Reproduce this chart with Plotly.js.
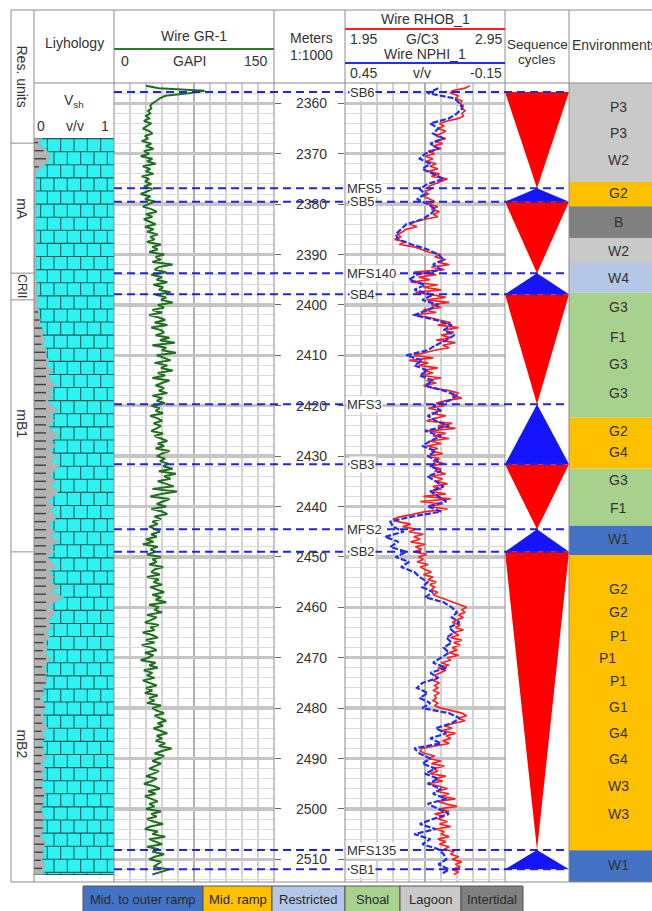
<!DOCTYPE html>
<html><head><meta charset="utf-8">
<script src="https://cdn.plot.ly/plotly-3.0.1.min.js"></script>
<style>html,body{margin:0;padding:0;background:#fff}#chart{width:652px;height:911px}</style>
</head><body><div id="chart"></div>
<script>
// ================= DATA =================
// Gamma ray (GAPI), 0.5 m sampling
const grStart = 2356.5, grStep = 0.5;
const grValues = [
30,42,85,70,48,43,40,36,34,35,32,34,30,33,28,35,31,27,33,36,
29,32,26,35,30,37,28,33,25,36,31,39,27,34,30,37,26,33,29,35,
28,36,31,25,34,29,38,32,27,35,40,30,36,28,33,39,29,37,31,41,
34,38,31,44,36,41,33,47,39,44,36,55,42,38,49,35,45,40,50,37,
46,42,53,39,49,44,55,41,47,36,45,33,42,48,38,50,35,44,47,39,
52,43,57,36,49,45,58,40,47,53,38,50,44,55,41,48,36,52,45,39,
47,42,50,36,45,40,48,35,43,39,46,34,41,45,37,44,40,35,46,38,
44,50,41,47,39,52,45,40,48,43,51,46,55,42,58,47,53,41,49,56,
36,59,44,34,52,46,40,49,35,45,50,38,44,36,41,33,39,43,35,40,
30,37,27,41,34,39,31,44,36,40,33,46,38,35,43,31,42,37,45,34,
41,47,36,44,39,49,33,42,38,45,31,40,35,29,42,34,38,27,36,41,
30,38,26,35,40,29,37,32,25,39,33,41,28,36,31,38,27,34,40,30,
36,29,41,33,38,31,44,36,40,47,38,43,49,41,46,37,44,50,40,45,
39,48,42,54,45,38,47,41,36,44,39,33,42,37,30,40,35,28,38,43,
32,39,29,36,41,33,38,30,44,35,40,31,37,46,34,29,41,36,48,33,
39,45,31,42,36,47,38,33,44,40,37,52,43,36
];
// Bulk density (G/C3), 0.5 m sampling
const rhobStart = 2356.5, rhobStep = 0.5;
const rhobValues = [
2.73,2.70,2.62,2.61,2.66,2.64,2.68,2.67,2.69,2.68,2.70,2.68,2.69,2.66,2.59,2.54,2.57,2.53,2.58,2.55,
2.52,2.58,2.51,2.56,2.50,2.55,2.47,2.51,2.45,2.50,2.46,2.52,2.48,2.53,2.47,2.54,2.49,2.59,2.55,2.50,
2.47,2.49,2.45,2.47,2.44,2.48,2.51,2.47,2.53,2.49,2.54,2.50,2.53,2.45,2.39,2.35,2.40,2.33,2.31,2.28,
2.30,2.26,2.33,2.29,2.38,2.43,2.47,2.55,2.51,2.58,2.53,2.60,2.49,2.57,2.38,2.52,2.41,2.48,2.36,2.53,
2.44,2.55,2.39,2.50,2.58,2.46,2.60,2.49,2.55,2.44,2.52,2.37,2.48,2.54,2.61,2.53,2.66,2.57,2.63,2.55,
2.61,2.52,2.64,2.56,2.60,2.51,2.45,2.38,2.50,2.35,2.47,2.41,2.53,2.44,2.50,2.43,2.55,2.46,2.52,2.44,
2.50,2.60,2.66,2.62,2.68,2.58,2.52,2.57,2.47,2.55,2.49,2.58,2.51,2.46,2.62,2.53,2.64,2.47,2.58,2.50,
2.60,2.48,2.55,2.46,2.53,2.49,2.56,2.47,2.54,2.50,2.57,2.48,2.55,2.51,2.58,2.49,2.56,2.52,2.59,2.50,
2.55,2.48,2.58,2.44,2.61,2.42,2.56,2.47,2.59,2.45,2.38,2.30,2.25,2.28,2.36,2.31,2.39,2.35,2.44,2.38,
2.42,2.36,2.45,2.39,2.43,2.38,2.46,2.41,2.44,2.40,2.47,2.42,2.45,2.49,2.44,2.50,2.47,2.52,2.48,2.51,
2.49,2.53,2.50,2.54,2.58,2.63,2.66,2.71,2.68,2.70,2.66,2.69,2.65,2.62,2.67,2.64,2.69,2.63,2.66,2.61,
2.68,2.63,2.67,2.62,2.65,2.60,2.66,2.59,2.61,2.55,2.60,2.53,2.58,2.54,2.51,2.53,2.50,2.54,2.51,2.53,
2.50,2.54,2.51,2.52,2.50,2.53,2.51,2.55,2.62,2.68,2.71,2.66,2.70,2.63,2.57,2.62,2.55,2.64,2.58,2.61,
2.56,2.60,2.50,2.43,2.42,2.45,2.51,2.47,2.55,2.49,2.57,2.50,2.53,2.48,2.58,2.51,2.56,2.47,2.54,2.59,
2.52,2.60,2.55,2.64,2.53,2.58,2.65,2.54,2.60,2.51,2.57,2.53,2.59,2.54,2.61,2.52,2.57,2.55,2.60,2.53,
2.58,2.54,2.60,2.57,2.63,2.61,2.66,2.62,2.68,2.64,2.67,2.62,2.66,2.63
];
// Neutron porosity (v/v), 1 m sampling
const nphiStart = 2357, nphiStep = 1;
const nphiValues = [
0.10,0.14,0.04,0.02,0.01,0.03,0.06,0.13,0.10,0.12,
0.08,0.13,0.10,0.15,0.17,0.13,0.16,0.12,0.08,0.14,
0.17,0.15,0.18,0.14,0.11,0.13,0.16,0.22,0.24,0.26,
0.25,0.20,0.14,0.10,0.08,0.12,0.09,0.18,0.21,0.15,
0.19,0.12,0.16,0.10,0.14,0.19,0.11,0.05,0.08,0.04,
0.07,0.11,0.14,0.22,0.16,0.19,0.14,0.17,0.12,0.15,
0.08,0.03,0.06,0.12,0.09,0.14,0.11,0.06,0.15,0.09,
0.13,0.16,0.11,0.14,0.10,0.13,0.09,0.14,0.11,0.08,
0.13,0.10,0.07,0.14,0.09,0.20,0.28,0.27,0.23,0.30,
0.25,0.28,0.22,0.26,0.21,0.24,0.19,0.17,0.14,0.16,
0.12,0.15,0.08,0.05,0.03,0.05,0.02,0.06,0.04,0.07,
0.05,0.08,0.06,0.09,0.12,0.07,0.13,0.10,0.16,0.18,
0.14,0.17,0.13,0.16,0.06,0.02,0.05,0.11,0.07,0.13,
0.09,0.19,0.17,0.13,0.16,0.11,0.15,0.10,0.14,0.09,
0.12,0.07,0.14,0.10,0.06,0.12,0.17,0.11,0.19,0.13,
0.16,0.10,0.08,0.07,0.10,0.06,0.09
];
// Shale volume (v/v), 1 m sampling
const vshStart = 2367, vshStep = 1;
const vshValues = [
0.10,0.06,0.14,0.20,0.19,0.15,0.07,0.03,
0.02,0.03,0.02,0.03,0.02,0.02,0.03,0.02,0.03,0.02,
0.02,0.03,0.02,0.03,0.02,0.03,0.02,0.03,0.03,0.02,
0.03,0.04,0.03,0.04,0.05,0.04,0.06,0.05,0.08,0.07,
0.12,0.10,0.15,0.11,0.17,0.14,0.19,0.16,0.24,0.18,
0.22,0.28,0.19,0.25,0.17,0.23,0.30,0.20,0.26,0.18,
0.24,0.32,0.21,0.27,0.19,0.29,0.22,0.33,0.25,0.20,
0.28,0.22,0.31,0.24,0.18,0.26,0.21,0.29,0.24,0.19,
0.27,0.22,0.31,0.20,0.26,0.17,0.23,0.28,0.19,0.25,
0.21,0.30,0.23,0.38,0.25,0.20,0.27,0.22,0.18,0.23,
0.15,0.20,0.14,0.18,0.13,0.21,0.16,0.12,0.17,0.14,
0.17,0.11,0.14,0.09,0.13,0.16,0.10,0.14,0.12,0.18,
0.11,0.15,0.09,0.13,0.12,0.16,0.10,0.14,0.11,0.13,
0.09,0.12,0.15,0.10,0.13,0.08,0.12,0.14,0.10,0.13,
0.09,0.12,0.15,0.11,0.13,0.10,0.14,0.12,0.13
];
// Sequence surfaces
const surfaceNames = ['SB6','MFS5','SB5','MFS140','SB4','MFS3','SB3','MFS2','SB2','MFS135','SB1'];
const surfaceDepths = [2357.76,2376.87,2379.52,2393.73,2397.90,2419.72,2431.63,2444.52,2448.97,2508.15,2511.98];
// Residual units
const unitNames = ['mA','CRII','mB1','mB2'];
const unitTops = [2367.9,2393.7,2399.0,2449.0];
const unitLabelDepths = [2381.0,2396.3,2423.5,2487.0];
// Environment intervals
const envTops    = [2355.97,2375.6,2380.4,2386.7,2391.7,2397.6,2422.4,2432.5,2443.8,2449.6,2508.2];
const envBottoms = [2375.6,2380.4,2386.7,2391.7,2397.6,2422.4,2432.5,2443.8,2449.6,2508.2,2514.5];
const envClasses = ['Lagoon','Mid. ramp','Intertidal','Lagoon','Restricted','Shoal','Mid. ramp','Shoal','Mid. to outer ramp','Mid. ramp','Mid. to outer ramp'];
const envLabels = ['P3','P3','W2','G2','B','W2','W4','G3','F1','G3','G3','G2','G4','G3','F1','W1','G2','G2','P1','P1','P1','G1','G4','G4','W3','W3','W1'];
const envLabelDepths = [2360.7,2365.9,2371.2,2377.8,2383.6,2389.4,2394.7,2400.4,2406.4,2411.8,2417.5,2425.0,2429.2,2434.7,2440.3,2446.5,2456.4,2461.0,2465.7,2470.1,2474.6,2479.8,2484.9,2490.1,2495.5,2501.0,2511.1];
const envLabelShift = [0,0,0,0,0,0,0,0,0,0,0,0,0,0,0,0,0,0,0,-11,0,0,0,0,0,0,0];
// Legend categories
const legendNames = ['Mid. to outer ramp','Mid. ramp','Restricted','Shoal','Lagoon','Intertidal'];
// Depth tick labels
const depthTicks = [2360,2370,2380,2390,2400,2410,2420,2430,2440,2450,2460,2470,2480,2490,2500,2510];

// ================= STYLE =================
const W = 652, H = 911;
const FONT = 'Liberation Sans, Arial, Helvetica, sans-serif';
const TXT = '#333333';
const envColors = {
  'Mid. to outer ramp':'#4472C4','Mid. ramp':'#FFC000','Restricted':'#B4C7E7',
  'Shoal':'#A9D18E','Lagoon':'#C9C9C9','Intertidal':'#808080'
};
const legendWidths = [120,69,73,55,61,62];
const X = px => px / W;
const Y = py => 1 - py / H;
const depthRange = [2514.5, 2355.97];
const yDomain = [Y(882), Y(83)];

const seqDepths = (start, step, n) => Array.from({length:n}, (_, i) => +(start + i*step).toFixed(2));

// ================= TRACES =================
const traces = [];
// Lithology column
const lithDepths = seqDepths(vshStart, vshStep, vshValues.length);
const lithTop = lithDepths[0], lithBottom = lithDepths[lithDepths.length-1];
traces.push({x:[0,1,1,0,0], y:[lithTop,lithTop,lithBottom,lithBottom,lithTop], xaxis:'x4', yaxis:'y3',
  mode:'lines', fill:'toself', fillcolor:'#2ff2f2', line:{width:0}, hoverinfo:'skip'});
// brick pattern
const brickH = 2.6, brickCols = 6;
const bx = [], by = [];
let row = 0;
for (let d = lithTop; d < lithBottom - 0.01; d += brickH, row++) {
  const dEnd = Math.min(d + brickH, lithBottom);
  bx.push(0, 1, null); by.push(d, d, null);
  for (let k = 0; k < brickCols; k++) {
    const xv = (k + (row % 2 ? 0.5 : 0)) / brickCols;
    if (xv <= 0) continue;
    bx.push(xv, xv, null); by.push(d, dEnd, null);
  }
}
bx.push(0, 1, null); by.push(lithBottom, lithBottom, null);
traces.push({x:bx, y:by, xaxis:'x4', yaxis:'y3', mode:'lines', line:{color:'#245c5c', width:1.1}, hoverinfo:'skip'});
// Vsh shale fill
traces.push({x:vshValues, y:lithDepths, xaxis:'x4', yaxis:'y3', mode:'lines', fill:'tozerox',
  fillcolor:'#b3b3b3', line:{color:'#5cc', width:1, dash:'dot'}, hoverinfo:'skip'});
// shale ticks
const tx = [], ty = [];
for (let d = lithTop + 0.8; d < lithBottom; d += 1.6) {
  const v = vshValues[Math.round((d - vshStart) / vshStep)];
  if (v >= 0.06) { tx.push(0, Math.min(v * 0.85, 0.15), null); ty.push(d, d, null); }
}
traces.push({x:tx, y:ty, xaxis:'x4', yaxis:'y3', mode:'lines', line:{color:'#404040', width:1.4}, hoverinfo:'skip'});

// GR
traces.push({x:grValues, y:seqDepths(grStart, grStep, grValues.length), xaxis:'x', yaxis:'y',
  mode:'lines', line:{color:'#1f6f1f', width:2}, hoverinfo:'skip'});
// NPHI then RHOB
traces.push({x:nphiValues, y:seqDepths(nphiStart, nphiStep, nphiValues.length), xaxis:'x3', yaxis:'y2',
  mode:'lines', line:{color:'#2030ee', width:2.2, dash:'6px,2px'}, hoverinfo:'skip'});
traces.push({x:rhobValues, y:seqDepths(rhobStart, rhobStep, rhobValues.length), xaxis:'x2', yaxis:'y2',
  mode:'lines', line:{color:'#ff2020', width:1.7}, hoverinfo:'skip'});

// Sequence cycle triangles
for (let k = 0; k < surfaceDepths.length - 1; k++) {
  const t = surfaceDepths[k], b = surfaceDepths[k+1];
  const isSB = surfaceNames[k].startsWith('SB');
  traces.push(isSB
    ? {x:[0,1,0.5,0], y:[t,t,b,t], fillcolor:'#ff0000'}
    : {x:[0.5,1,0,0.5], y:[t,b,b,t], fillcolor:'#1414ff'});
  Object.assign(traces[traces.length-1], {xaxis:'x5', yaxis:'y4', mode:'lines', fill:'toself', line:{width:0}, hoverinfo:'skip'});
}
// Environment blocks
envTops.forEach((t, i) => {
  const b = envBottoms[i];
  traces.push({x:[0,1,1,0,0], y:[t,t,b,b,t], xaxis:'x6', yaxis:'y5', mode:'lines', fill:'toself',
    fillcolor:envColors[envClasses[i]], line:{width:0}, hoverinfo:'skip'});
});

// ================= SHAPES =================
const FR = '#8c8c8c';
const shapes = [];
const pline = (x0,y0,x1,y1,color=FR,width=1) => shapes.push({type:'line', xref:'paper', yref:'paper',
  x0:X(x0), y0:Y(y0), x1:X(x1), y1:Y(y1), line:{color, width}, layer:'above'});
pline(11,10,652,10); pline(11,10,11,882); pline(11,882,652,882);
[34,114,274,345,505,569].forEach(px => pline(px,10,px,882));
pline(34,83,652,83);
pline(114,49,274,49,'#2a7a2a',2);
pline(345,29,505,29,'#ff2020',2);
pline(345,63,505,63,'#2030ee',2);
// residual unit boundaries
unitTops.forEach(d => shapes.push({type:'line', xref:'paper', yref:'y3', x0:X(11), x1:X(34), y0:d, y1:d,
  line:{color:FR, width:1}, layer:'above'}));
// sequence surfaces (dashed)
surfaceDepths.forEach(d => shapes.push({type:'line', xref:'paper', yref:'y', x0:X(114), x1:X(569), y0:d, y1:d,
  line:{color:'#2424d8', width:2, dash:'8px,5px'}, layer:'above'}));
// legend boxes
let lx = 83;
const legendAnn = [];
legendNames.forEach((n, i) => {
  const w = legendWidths[i];
  shapes.push({type:'rect', xref:'paper', yref:'paper', x0:X(lx), x1:X(lx+w), y0:Y(912), y1:Y(886),
    fillcolor:envColors[n], line:{color:'#555', width:1}, layer:'above'});
  legendAnn.push({text:n, xref:'paper', yref:'paper', x:X(lx + w/2), y:Y(899), showarrow:false,
    xanchor:'center', yanchor:'middle', font:{family:FONT, size:13, color:'#2a2a2a'}});
  lx += w;
});

// ================= ANNOTATIONS =================
const ann = [];
function txt(text, px, py, opts) {
  const o = Object.assign({xanchor:'center', size:14, angle:0}, opts || {});
  ann.push({text, xref:'paper', yref:'paper', x:X(px), y:Y(py), showarrow:false, xanchor:o.xanchor,
    yanchor:'middle', textangle:o.angle, font:{family:FONT, size:o.size, color:TXT}});
}
txt('Res. units', 21.5, 77, {angle:90});
txt('Liyhology', 74, 43);
txt('V<sub>sh</sub>', 74, 101);
txt('0', 35, 126, {xanchor:'left'});
txt('v/v', 75, 126);
txt('1', 111, 126, {xanchor:'right'});
txt('Wire GR-1', 194, 36);
txt('0', 119, 61, {xanchor:'left'});
txt('GAPI', 189, 61);
txt('150', 270, 61, {xanchor:'right'});
txt('Meters', 311, 38);
txt('1:1000', 311, 55);
txt('Wire RHOB_1', 425, 19);
txt('1.95', 348, 39, {xanchor:'left'});
txt('G/C3', 422, 39);
txt('2.95', 504, 39, {xanchor:'right'});
txt('Wire NPHI_1', 425, 54);
txt('0.45', 348, 73, {xanchor:'left'});
txt('v/v', 422, 73);
txt('-0.15', 504, 73, {xanchor:'right'});
txt('Sequence', 537, 44, {size:13.5});
txt('cycles', 537, 59, {size:13.5});
txt('Environments', 570, 45, {xanchor:'left'});

// depth labels
depthTicks.forEach(d => ann.push({text:String(d), xref:'paper', yref:'y', x:X(311), y:d, showarrow:false,
  xanchor:'center', yanchor:'middle', font:{family:FONT, size:14, color:TXT}}));
// residual unit labels
unitNames.forEach((n, i) => ann.push({text:n, xref:'paper', yref:'y3', x:X(22), y:unitLabelDepths[i], showarrow:false,
  textangle:90, xanchor:'center', yanchor:'middle', font:{family:FONT, size:n === 'CRII' ? 12 : 14, color:TXT}}));
// surface labels
surfaceNames.forEach((n, i) => ann.push({text:n, xref:'paper', yref:'y2', x:X(n.startsWith('SB') ? 349 : 346),
  y:surfaceDepths[i], showarrow:false, xanchor:'left', yanchor:'middle', bgcolor:'#ffffff', borderpad:0,
  font:{family:FONT, size:13, color:TXT}}));
// environment labels
envLabels.forEach((n, i) => ann.push({text:n, xref:'paper', yref:'y5', x:X(618 + envLabelShift[i]),
  y:envLabelDepths[i], showarrow:false, xanchor:'center', yanchor:'middle', font:{family:FONT, size:14, color:TXT}}));

// ================= LAYOUT =================
const hidden = {visible:false, fixedrange:true};
const gridY = (anchor, side) => ({domain:yDomain, range:depthRange, anchor, side, showticklabels:false,
  ticks:'outside', ticklen:6, tickwidth:1, tickcolor:'#666', tick0:2360, dtick:10,
  showgrid:true, gridcolor:'#c6c6c6', gridwidth:3.5, zeroline:false, showline:false, fixedrange:true,
  minor:{tick0:2360, dtick:2, showgrid:true, gridcolor:'#dadada', gridwidth:1, ticks:''}});
const layout = {
  width:W, height:H, margin:{l:0, r:0, t:0, b:0}, paper_bgcolor:'#ffffff', plot_bgcolor:'rgba(0,0,0,0)',
  showlegend:false, font:{family:FONT, color:TXT},
  xaxis:{domain:[X(114), X(274)], range:[0,150], anchor:'y', showticklabels:false, ticks:'', tick0:0, dtick:75,
    showgrid:true, gridcolor:'#b0b0b0', gridwidth:1.5, zeroline:false, showline:false, fixedrange:true,
    minor:{tick0:0, dtick:15, showgrid:true, gridcolor:'#d2d2d2', gridwidth:1.2, ticks:''}},
  yaxis:gridY('x', 'right'),
  xaxis2:{domain:[X(345), X(505)], range:[1.95,2.95], anchor:'y2', showticklabels:false, ticks:'', tick0:1.95, dtick:0.5,
    showgrid:true, gridcolor:'#b0b0b0', gridwidth:1.5, zeroline:false, showline:false, fixedrange:true,
    minor:{tick0:1.95, dtick:0.1, showgrid:true, gridcolor:'#d2d2d2', gridwidth:1.2, ticks:''}},
  yaxis2:gridY('x2', 'left'),
  xaxis3:Object.assign({overlaying:'x2', anchor:'y2', range:[0.45,-0.15]}, hidden),
  xaxis4:Object.assign({domain:[X(34), X(114)], range:[0,1], anchor:'y3'}, hidden),
  yaxis3:Object.assign({domain:yDomain, range:depthRange, anchor:'x4'}, hidden),
  xaxis5:Object.assign({domain:[X(505), X(569)], range:[0,1], anchor:'y4'}, hidden),
  yaxis4:Object.assign({domain:yDomain, range:depthRange, anchor:'x5'}, hidden),
  xaxis6:Object.assign({domain:[X(569), 1], range:[0,1], anchor:'y5'}, hidden),
  yaxis5:Object.assign({domain:yDomain, range:depthRange, anchor:'x6'}, hidden),
  shapes, annotations: ann.concat(legendAnn)
};
Plotly.newPlot('chart', traces, layout, {staticPlot:true, displayModeBar:false});
</script></body></html>
